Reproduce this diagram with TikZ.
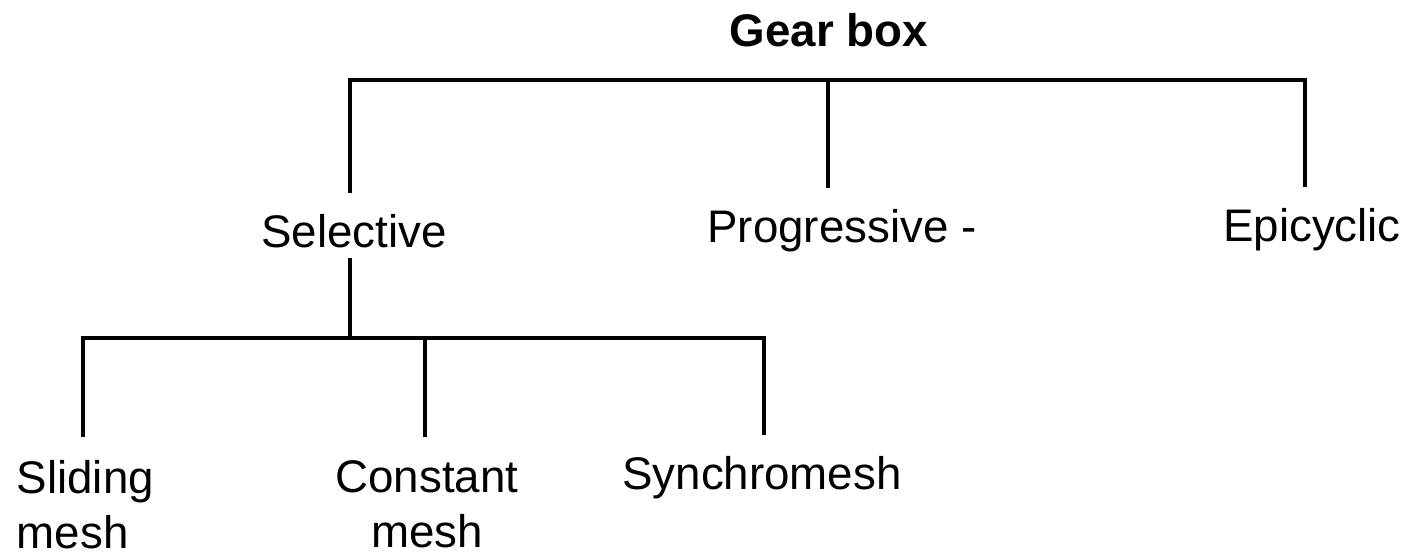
\documentclass[tikz,border=0pt]{standalone}
\usepackage{fontspec}
\setmainfont{Liberation Sans}
\begin{document}
\begin{tikzpicture}[
  lbl/.style={inner sep=0pt, font=\fontsize{13}{15.6}\selectfont},
  branch/.style={draw, line width=1.3pt}]
\useasboundingbox (0,0) rectangle (14.1,-5.58);

\node[lbl, anchor=base, font=\fontsize{13}{15.6}\selectfont\bfseries] (gearbox) at (8.29,-0.47) {Gear box};
\node[lbl, anchor=base] (selective) at (3.54,-2.48) {Selective};
\node[lbl, anchor=base] (progressive) at (8.28,-2.43) {Progressive\rlap{\ -}};
\node[lbl, anchor=base] (epicyclic) at (13.12,-2.42) {Epicyclic};
\node[lbl, anchor=north west, align=left] (sliding) at (0.16,-4.60) {Sliding\\mesh};
\node[lbl, anchor=north, align=center] (constant) at (4.27,-4.60) {Constant\\mesh};
\node[lbl, anchor=base] (synchromesh) at (7.62,-4.90) {Synchromesh};

\coordinate (tl) at (3.50,-0.80);
\coordinate (tm) at (8.28,-0.80);
\coordinate (tr) at (13.05,-0.80);
\coordinate (bl) at (0.83,-3.38);
\coordinate (bs) at (3.50,-3.38);
\coordinate (bm) at (4.25,-3.38);
\coordinate (br) at (7.64,-3.38);

% first level
\path[branch, shorten <=6pt, shorten >=6pt] (tl |- selective.north) -- (tl) -- (tr) -- (tr |- epicyclic.north);
\path[branch, shorten >=6pt] (tm) -- (tm |- progressive.north);

% second level
\path[branch, shorten <=2.5pt] (selective.south -| tl) -- (bs);
\path[branch, shorten <=6.5pt, shorten >=6pt] (bl |- sliding.north) -- (bl) -- (br) -- (br |- synchromesh.north);
\path[branch, shorten >=6.5pt] (bm) -- (bm |- constant.north);
\end{tikzpicture}
\end{document}
